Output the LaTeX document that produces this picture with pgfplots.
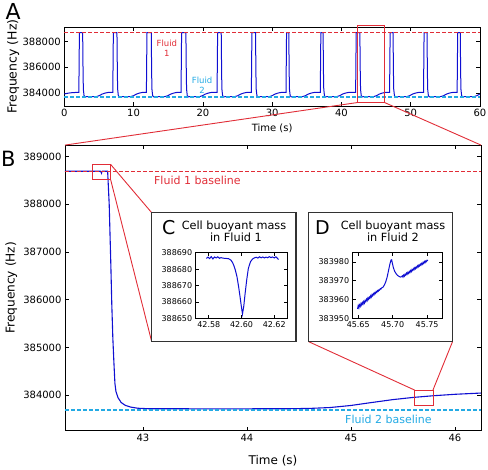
\documentclass[border=0pt]{standalone}
\usepackage{fontspec}
\setmainfont{DejaVu Sans}
\usepackage{pgfplots}
\pgfplotsset{compat=1.18}
\definecolor{fred}{RGB}{225,45,55}
\definecolor{fcyan}{RGB}{35,170,228}
\definecolor{fblue}{RGB}{15,15,210}
\definecolor{fframe}{RGB}{50,50,50}
\pgfplotsset{
  every axis/.append style={
    scale only axis,
    anchor=south west,
    axis line style={line width=0.9pt},
    every tick/.style={black, line width=0.7pt},
    major tick length=4pt,
    scaled x ticks=false, scaled y ticks=false,
    /pgf/number format/fixed,
    /pgf/number format/assume math mode=true,
    /pgf/number format/1000 sep={},
    tick label style={font=\fontsize{10}{12}\selectfont},
  },
}
\tikzset{basedash/.style={line width=1.3pt, dash pattern=on 4pt off 2pt}}
\begin{document}
\begin{tikzpicture}
\path[use as bounding box] (0pt,0pt) rectangle (488pt,470pt);

% ---------------- Panel A ----------------
\begin{axis}[
  at={(64.3pt,364pt)}, width=415.7pt, height=78.7pt,
  xmin=0, xmax=60, ymin=383000, ymax=389100,
  xtick={0,10,20,30,40,50,60},
  ytick={384000,386000,388000},
  clip=false,
  xlabel={Time (s)}, ylabel={Frequency (Hz)},
  xlabel style={at={(axis description cs:0.5,-0.279)}, anchor=center, font=\fontsize{10}{12}\selectfont},
  ylabel style={at={(axis description cs:-0.1227,0.5)}, anchor=center, font=\fontsize{12.5}{14}\selectfont},
]
\addplot[fblue, line width=1pt] coordinates {
(0,383930) (0.5,383990) (1.0,384025) (1.5,384045)
(2.10,384055) (2.18,388690) (2.65,388690) (2.71,385500) (2.75,384300) (2.85,383800) (3.00,383715) (4.65,383730) (5.05,383800) (5.45,383920) (5.85,383995) (6.25,384045)
(7.00,384055) (7.08,388690) (7.60,388690) (7.66,385500) (7.70,384300) (7.80,383800) (7.95,383715) (9.60,383730) (10.00,383800) (10.40,383920) (10.80,383995) (11.20,384045)
(11.85,384055) (11.93,388690) (12.55,388690) (12.61,385500) (12.65,384300) (12.75,383800) (12.90,383715) (14.55,383730) (14.95,383800) (15.35,383920) (15.75,383995) (16.15,384045)
(16.85,384055) (16.93,388690) (17.55,388690) (17.61,385500) (17.65,384300) (17.75,383800) (17.90,383715) (19.55,383730) (19.95,383800) (20.35,383920) (20.75,383995) (21.15,384045)
(22.05,384055) (22.13,388690) (22.65,388690) (22.71,385500) (22.75,384300) (22.85,383800) (23.00,383715) (24.65,383730) (25.05,383800) (25.45,383920) (25.85,383995) (26.25,384045)
(27.00,384055) (27.08,388690) (27.60,388690) (27.66,385500) (27.70,384300) (27.80,383800) (27.95,383715) (29.60,383730) (30.00,383800) (30.40,383920) (30.80,383995) (31.20,384045)
(32.00,384055) (32.08,388690) (32.40,388690) (32.46,385500) (32.50,384300) (32.60,383800) (32.75,383715) (34.40,383730) (34.80,383800) (35.20,383920) (35.60,383995) (36.00,384045)
(36.95,384055) (37.03,388690) (37.35,388690) (37.41,385500) (37.45,384300) (37.55,383800) (37.70,383715) (39.35,383730) (39.75,383800) (40.15,383920) (40.55,383995) (40.95,384045)
(42.05,384055) (42.13,388690) (42.66,388690) (42.72,385500) (42.76,384300) (42.86,383800) (43.01,383715) (44.66,383730) (45.06,383800) (45.46,383920) (45.86,383995) (46.26,384045)
(46.95,384055) (47.03,388690) (47.45,388690) (47.51,385500) (47.55,384300) (47.65,383800) (47.80,383715) (49.45,383730) (49.85,383800) (50.25,383920) (50.65,383995) (51.05,384045)
(51.85,384055) (51.93,388690) (52.35,388690) (52.41,385500) (52.45,384300) (52.55,383800) (52.70,383715) (54.35,383730) (54.75,383800) (55.15,383920) (55.55,383995) (55.95,384045)
(56.70,384055) (56.78,388690) (57.15,388690) (57.21,385500) (57.25,384300) (57.35,383800) (57.50,383715) (59.15,383730) (59.55,383800) (60.00,383930)
};
\addplot[fred, basedash] coordinates {(0,388690) (60,388690)};
\addplot[fcyan, basedash] coordinates {(0,383700) (60,383700)};
\node[fred, align=center, font=\fontsize{8.5}{10.5}\selectfont] at (axis cs:14.8,387480) {Fluid\\1};
\node[fcyan, align=center, font=\fontsize{8.5}{10.5}\selectfont] at (axis cs:19.9,384615) {Fluid\\2};
\draw[fred, line width=0.9pt] (axis cs:42.25,383263) rectangle (axis cs:46.25,389240);
\coordinate (Abl) at (axis cs:42.25,383263);
\coordinate (Abr) at (axis cs:46.25,383263);
\end{axis}

% ---------------- Panel B ----------------
\begin{axis}[
  at={(65pt,39.3pt)}, width=416pt, height=285.7pt,
  xmin=42.25, xmax=46.25, ymin=383260, ymax=389240,
  xtick={43,44,45,46},
  ytick={384000,385000,386000,387000,388000,389000},
  clip=false,
  xlabel={Time (s)}, ylabel={Frequency (Hz)},
  xlabel style={at={(axis description cs:0.5,-0.106)}, anchor=center, font=\fontsize{12}{14}\selectfont},
  ylabel style={at={(axis description cs:-0.129,0.5)}, anchor=center, font=\fontsize{12.2}{14}\selectfont},
]
\addplot[fblue, line width=1.1pt] coordinates {
(42.25,388690) (42.59,388690) (42.598,388670) (42.601,388652) (42.604,388675) (42.608,388690)
(42.66,388690) (42.675,388000) (42.69,386800) (42.70,385900) (42.71,385200) (42.72,384700)
(42.73,384250) (42.74,384080) (42.76,383950) (42.79,383850) (42.83,383790) (42.88,383755)
(42.95,383730) (43.05,383720) (43.50,383718) (44.00,383718) (44.40,383720) (44.60,383726)
(44.80,383745) (45.00,383788) (45.20,383850) (45.40,383910) (45.60,383957) (45.80,383993)
(46.00,384022) (46.25,384048)
};
\addplot[fred, line width=1.7pt, dash pattern=on 4pt off 2pt] coordinates {(42.25,388685) (46.25,388685)};
\addplot[fcyan, line width=1.7pt, dash pattern=on 4pt off 2pt] coordinates {(42.25,383695) (46.25,383695)};
\node[fred, anchor=base, font=\fontsize{11}{13}\selectfont] at (axis cs:43.523,388410) {Fluid 1 baseline};
\node[fcyan, anchor=base, font=\fontsize{11}{13}\selectfont] at (axis cs:45.36,383402) {Fluid 2 baseline};
\draw[fred, line width=0.9pt] (axis cs:42.516,388514) rectangle (axis cs:42.689,388833);
\coordinate (Ctr) at (axis cs:42.689,388833);
\coordinate (Cbr) at (axis cs:42.689,388514);
\draw[fred, line width=0.9pt] (axis cs:45.612,383792) rectangle (axis cs:45.788,384110);
\coordinate (Dtl) at (axis cs:45.612,384110);
\coordinate (Dtr) at (axis cs:45.788,384110);
\end{axis}

% connecting lines to insets
\draw[fred, line width=0.9pt] (Ctr) -- (151.7pt,257.3pt);
\draw[fred, line width=0.9pt] (Cbr) -- (151.7pt,128.3pt);
\draw[fred, line width=0.9pt] (Dtl) -- (308.7pt,128.3pt);
\draw[fred, line width=0.9pt] (Dtr) -- (452.5pt,128.3pt);

% inset frames
\draw[fframe, line width=1.3pt, fill=white] (151.7pt,128.3pt) rectangle (296pt,257.3pt);
\draw[fframe, line width=1.3pt, fill=white] (308.7pt,128.3pt) rectangle (452.5pt,257.3pt);

% ---------------- Inset C ----------------
\begin{axis}[
  at={(195.7pt,151.7pt)}, width=91.6pt, height=65.6pt,
  xmin=42.572, xmax=42.628, ymin=50, ymax=90,
  xtick={42.58,42.60,42.62}, xticklabels={42.58,42.60,42.62},
  ytick={50,60,70,80,90}, yticklabels={388650,388660,388670,388680,388690},
  major tick length=3pt,
  tick label style={font=\fontsize{8}{9}\selectfont},
]
\addplot[fblue, line width=1pt] coordinates {
(42.5785,86.5) (42.5795,87.3) (42.5805,86.4) (42.5815,87.6) (42.5825,86.2) (42.5835,87.4)
(42.5845,86.8) (42.5855,87.5) (42.5865,86.6) (42.5875,87.0) (42.5885,86.7) (42.5900,86.5)
(42.5920,86.4) (42.5935,85.5) (42.5945,84.0) (42.5952,82.5) (42.5962,79.5) (42.5972,75.5)
(42.5982,69.5) (42.5990,64.0) (42.5998,58.0) (42.6006,52.6) (42.6014,57.5) (42.6022,65.0)
(42.6032,73.5) (42.6042,80.5) (42.6055,84.5) (42.6068,86.2) (42.6080,86.9) (42.6090,87.2)
(42.6100,86.7) (42.6110,87.5) (42.6120,86.9) (42.6130,87.4) (42.6140,86.8) (42.6150,87.3)
(42.6160,86.9) (42.6170,87.6) (42.6180,87.0) (42.6190,87.4) (42.6200,86.8) (42.6210,87.5)
(42.6220,86.6) (42.6226,85.8)
};
\end{axis}

% ---------------- Inset D ----------------
\begin{axis}[
  at={(352.7pt,151.7pt)}, width=89.6pt, height=65.6pt,
  xmin=45.642, xmax=45.772, ymin=50, ymax=85,
  xtick={45.65,45.70,45.75}, xticklabels={45.65,45.70,45.75},
  ytick={50,60,70,80}, yticklabels={383950,383960,383970,383980},
  major tick length=3pt,
  tick label style={font=\fontsize{8}{9}\selectfont},
]
\addplot[fblue, line width=1pt] coordinates {
(45.649,55.0) (45.650,56.8) (45.651,55.6) (45.652,57.2) (45.653,56.4) (45.654,57.9)
(45.655,57.0) (45.656,58.4) (45.657,57.6) (45.658,59.0) (45.659,58.1) (45.660,59.5)
(45.661,58.9) (45.662,60.2) (45.663,59.4) (45.664,60.8) (45.665,60.1) (45.666,61.3)
(45.667,60.7) (45.668,62.0) (45.669,61.3) (45.670,62.6) (45.671,62.0) (45.672,63.2)
(45.673,62.6) (45.674,63.7) (45.675,63.2) (45.676,64.3) (45.677,63.8) (45.678,64.8)
(45.679,64.4) (45.680,65.2) (45.681,65.0) (45.682,65.8) (45.683,65.6) (45.684,66.2)
(45.686,66.6) (45.688,67.8) (45.690,69.5) (45.692,72.0) (45.694,75.5) (45.696,79.0)
(45.6975,81.0) (45.6985,81.2) (45.6995,79.5) (45.701,77.0) (45.703,75.0) (45.705,73.8)
(45.707,72.9) (45.709,72.4) (45.711,72.0) (45.713,72.2)
(45.714,72.7) (45.715,72.0) (45.716,73.1) (45.717,72.5) (45.718,73.5) (45.719,73.0)
(45.720,74.1) (45.721,73.5) (45.722,74.5) (45.723,73.9) (45.724,75.0) (45.725,74.4)
(45.726,75.5) (45.727,74.9) (45.728,76.0) (45.729,75.5) (45.730,76.5) (45.731,75.9)
(45.732,77.0) (45.733,76.4) (45.734,77.4) (45.735,76.9) (45.736,78.0) (45.737,77.4)
(45.738,78.4) (45.739,77.9) (45.740,78.9) (45.741,78.3) (45.742,79.3) (45.743,78.8)
(45.744,79.8) (45.745,79.2) (45.746,80.3) (45.747,79.7) (45.748,80.6) (45.749,80.2)
(45.750,81.0) (45.751,80.7)
};
\end{axis}

% inset titles and panel letters
\node[anchor=base west, font=\fontsize{19}{22}\selectfont, inner sep=0pt] at (162pt,235pt) {C};
\node[anchor=base, font=\fontsize{11.3}{12}\selectfont, inner sep=0pt] at (234pt,240.3pt) {Cell buoyant mass};
\node[anchor=base, font=\fontsize{11.3}{12}\selectfont, inner sep=0pt] at (236pt,228.0pt) {in Fluid 1};
\node[anchor=base west, font=\fontsize{19}{22}\selectfont, inner sep=0pt] at (315pt,235pt) {D};
\node[anchor=base, font=\fontsize{11.3}{12}\selectfont, inner sep=0pt] at (393pt,240.3pt) {Cell buoyant mass};
\node[anchor=base, font=\fontsize{11.3}{12}\selectfont, inner sep=0pt] at (393pt,228.0pt) {in Fluid 2};
\node[anchor=base west, font=\fontsize{22}{26}\selectfont, inner sep=0pt] at (5.5pt,450.7pt) {A};
\node[anchor=base west, font=\fontsize{21}{25}\selectfont, inner sep=0pt] at (1pt,303.3pt) {B};

% lines from A zoom box to panel B
\draw[fred, line width=0.9pt] (Abl) -- (65pt,324.9pt);
\draw[fred, line width=0.9pt] (Abr) -- (481pt,324.9pt);
\end{tikzpicture}
\end{document}
